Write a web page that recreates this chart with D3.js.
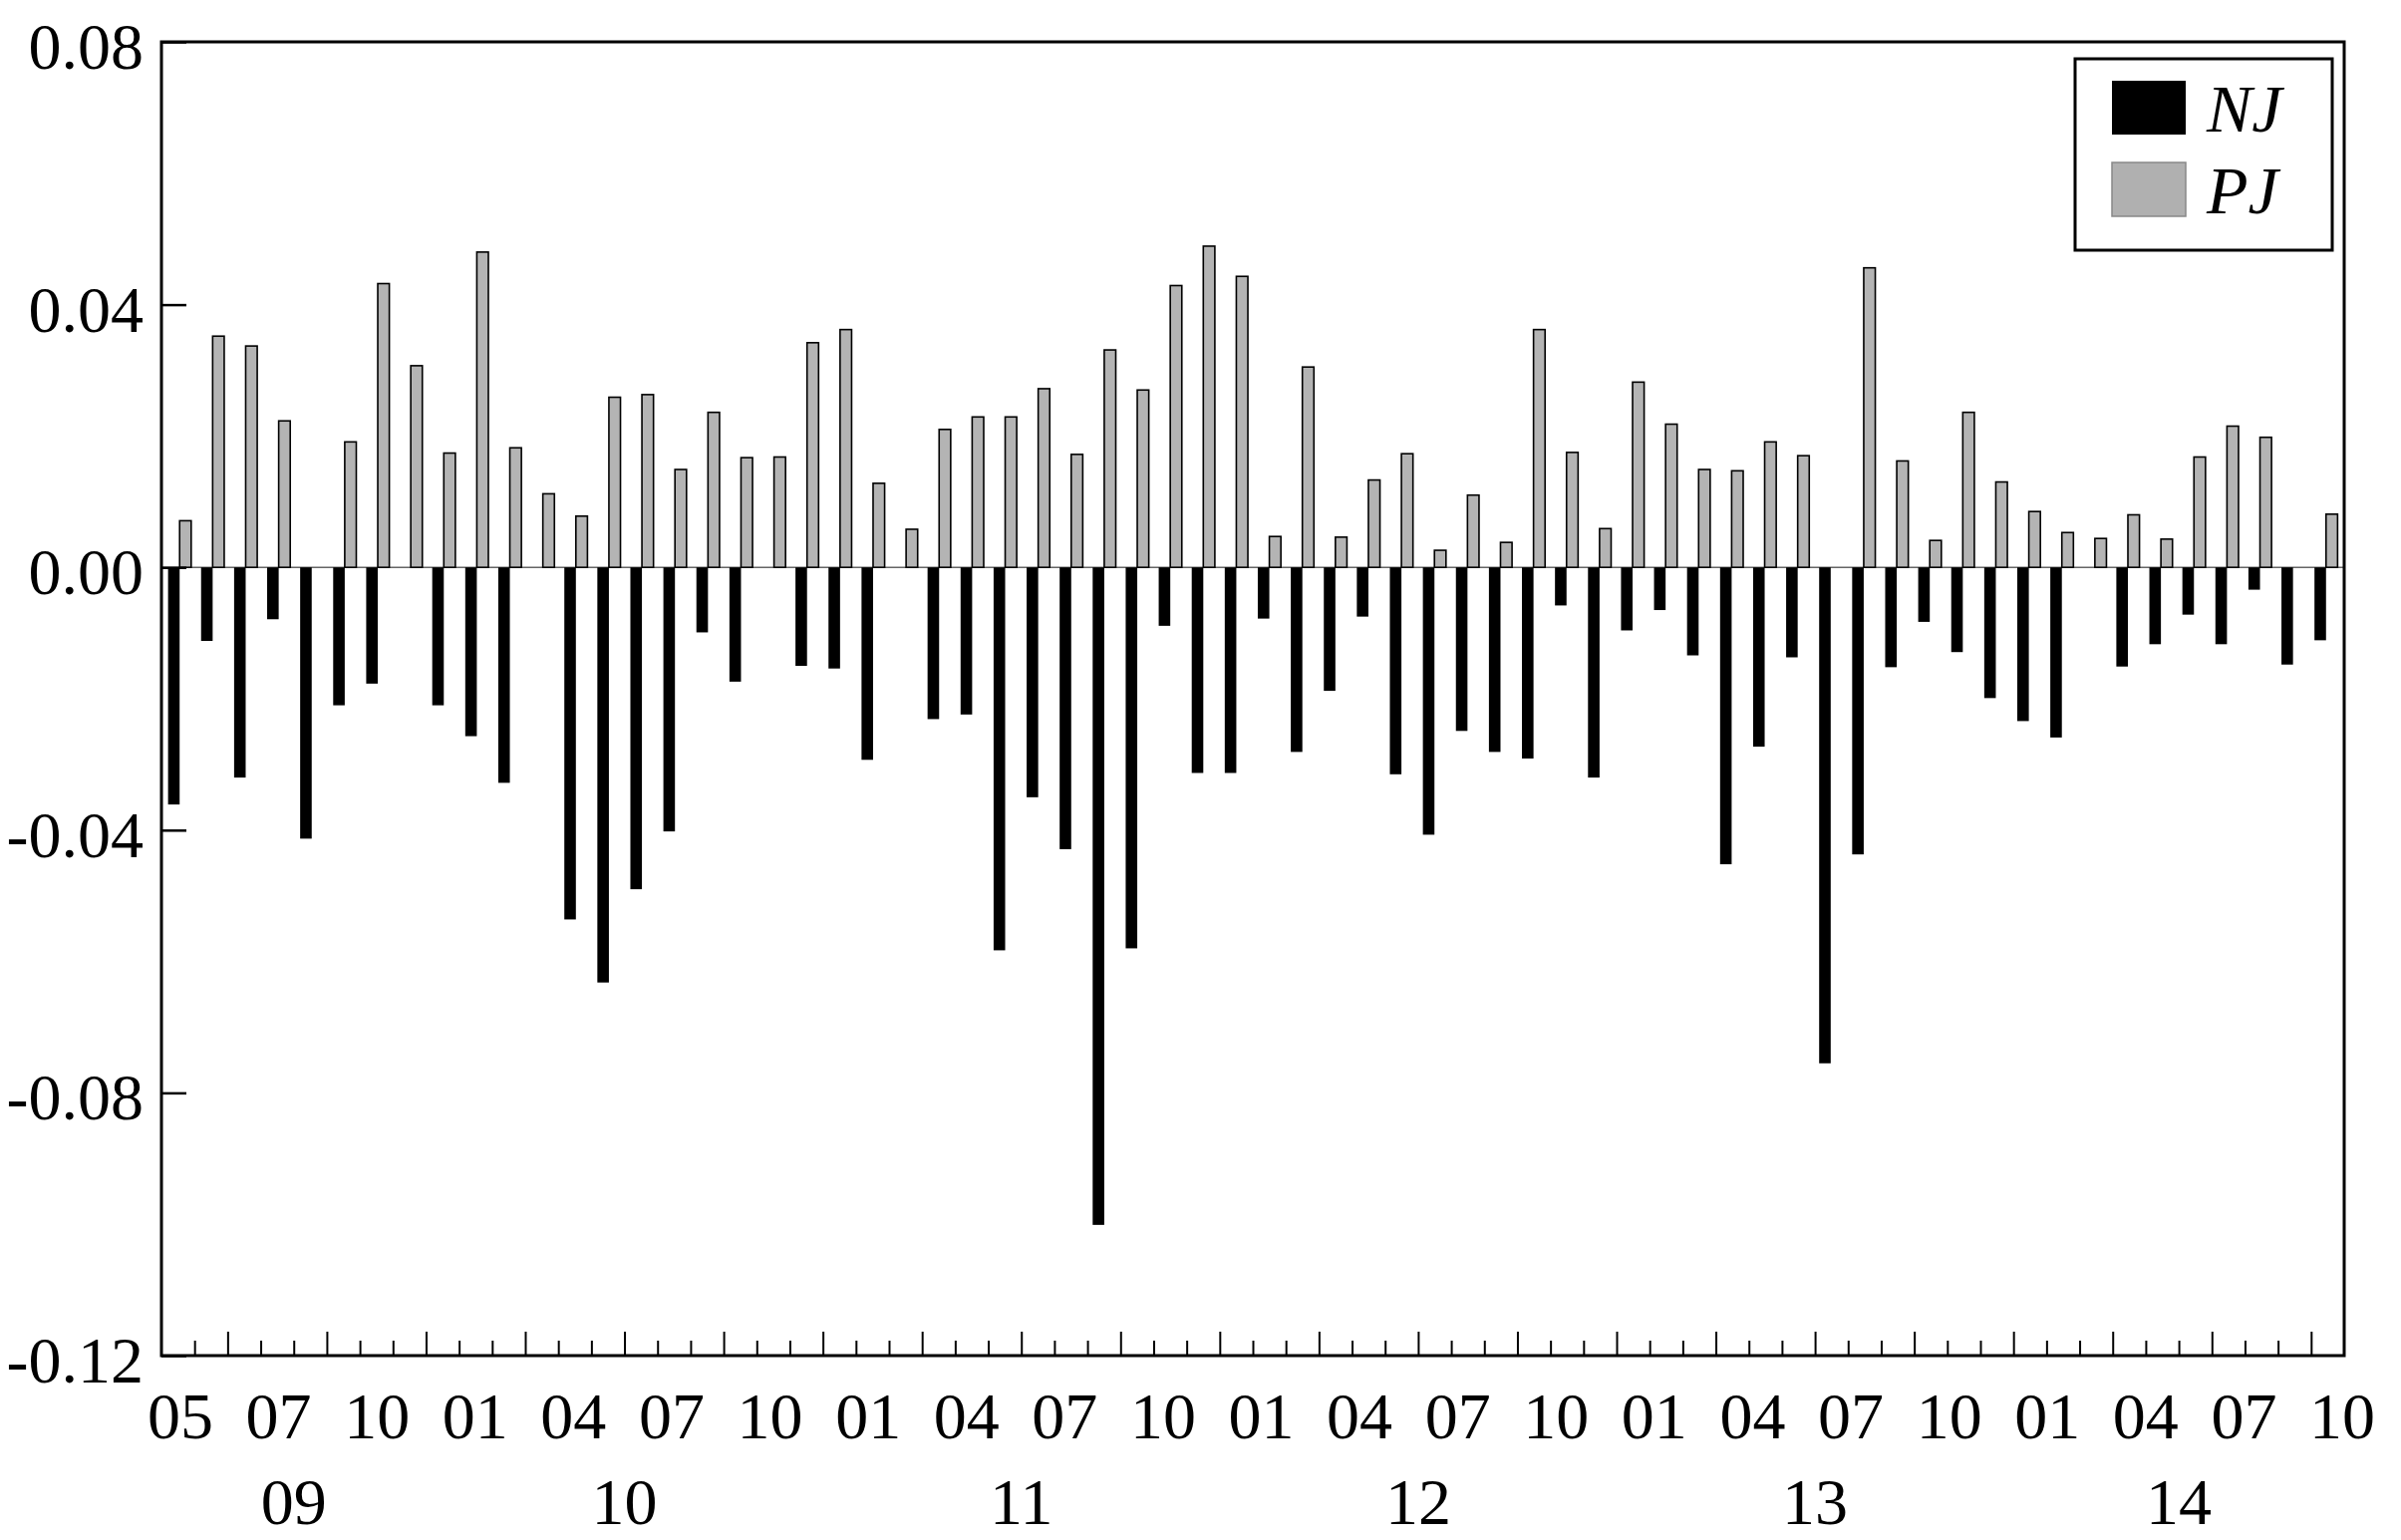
<!DOCTYPE html>
<html>
<head>
<meta charset="utf-8">
<script src="https://cdn.jsdelivr.net/npm/d3@7/dist/d3.min.js"></script>
<style>
  html, body { margin: 0; padding: 0; background: #fff; }
  svg { display: block; }
  text { font-family: "Liberation Serif", "Times New Roman", serif; fill: #000; }
</style>
</head>
<body>
<svg id="chart" width="2409" height="1545"></svg>
<script>
// ---- data ----
const months = [
  "2009-05","2009-06","2009-07","2009-08","2009-09","2009-10","2009-11","2009-12",
  "2010-01","2010-02","2010-03","2010-04","2010-05","2010-06","2010-07","2010-08","2010-09","2010-10","2010-11","2010-12",
  "2011-01","2011-02","2011-03","2011-04","2011-05","2011-06","2011-07","2011-08","2011-09","2011-10","2011-11","2011-12",
  "2012-01","2012-02","2012-03","2012-04","2012-05","2012-06","2012-07","2012-08","2012-09","2012-10","2012-11","2012-12",
  "2013-01","2013-02","2013-03","2013-04","2013-05","2013-06","2013-07","2013-08","2013-09","2013-10","2013-11","2013-12",
  "2014-01","2014-02","2014-03","2014-04","2014-05","2014-06","2014-07","2014-08","2014-09","2014-10"
];
const NJ = [
  -0.0361,-0.0112,-0.0320,-0.0079,-0.0413,-0.0210,-0.0177,0,
  -0.0210,-0.0257,-0.0328,0,-0.0536,-0.0632,-0.0490,-0.0402,-0.0099,-0.0174,0,-0.0150,
  -0.0154,-0.0293,0,-0.0231,-0.0224,-0.0583,-0.0350,-0.0429,-0.1001,-0.0580,-0.0089,-0.0313,
  -0.0313,-0.0078,-0.0281,-0.0188,-0.0075,-0.0315,-0.0407,-0.0249,-0.0281,-0.0291,-0.0058,-0.0320,
  -0.0096,-0.0065,-0.0134,-0.0452,-0.0273,-0.0137,-0.0755,-0.0437,-0.0152,-0.0083,-0.0129,-0.0199,
  -0.0234,-0.0259,0,-0.0151,-0.0117,-0.0072,-0.0117,-0.0034,-0.0148,-0.0111
];
const PJ = [
  0.0071,0.0352,0.0337,0.0223,0,0.0191,0.0432,0.0307,
  0.0174,0.0480,0.0182,0.0112,0.0078,0.0259,0.0263,0.0149,0.0236,0.0167,0.0168,0.0342,
  0.0362,0.0128,0.0058,0.0210,0.0229,0.0229,0.0272,0.0172,0.0331,0.0270,0.0429,0.0489,
  0.0443,0.0047,0.0305,0.0046,0.0133,0.0173,0.0026,0.0110,0.0038,0.0362,0.0175,0.0059,
  0.0282,0.0218,0.0149,0.0147,0.0191,0.0170,0,0.0456,0.0162,0.0041,0.0236,0.0130,
  0.0085,0.0053,0.0044,0.0080,0.0043,0.0168,0.0215,0.0198,0,0.0081
];
const seriesNames = ["NJ", "PJ"];
const yTicks = [0.08, 0.04, 0.00, -0.04, -0.08, -0.12];
const monthLabels = ["05","07","10","01","04","07","10","01","04","07","10","01","04","07","10","01","04","07","10","01","04","07","10"];
const yearLabels = ["09","10","11","12","13","14"];

// ---- layout ----
const svg = d3.select("#chart");
const L = 162, R = 2352, T = 42, B = 1360;
const colors = { NJ: "#000000", PJ: "#b4b4b4" };

const y = d3.scaleLinear().domain([-0.12, 0.08]).range([B, T]);
const x = d3.scaleBand().domain(months).range([L, R]).paddingInner(0.3).paddingOuter(0.2);
const xs = d3.scaleBand().domain(seriesNames).range([0, x.bandwidth()]).padding(0);
const xb = d3.scaleLinear().domain([0, months.length]).range([L, R]); // month boundaries

svg.append("rect").attr("width", 2409).attr("height", 1545).attr("fill", "#fff");

// zero line
svg.append("line")
  .attr("x1", L).attr("x2", R).attr("y1", y(0)).attr("y2", y(0))
  .attr("stroke", "#666").attr("stroke-width", 1.5);

// bars
const rows = months.map((m, i) => ({ m, NJ: NJ[i], PJ: PJ[i] }));
const g = svg.append("g");
g.selectAll("rect.nj").data(rows.filter(d => d.NJ !== 0)).join("rect")
  .attr("class", "nj")
  .attr("x", d => x(d.m) + xs("NJ"))
  .attr("width", xs.bandwidth())
  .attr("y", d => y(0))
  .attr("height", d => y(d.NJ) - y(0))
  .attr("fill", colors.NJ);
g.selectAll("rect.pj").data(rows.filter(d => d.PJ !== 0)).join("rect")
  .attr("class", "pj")
  .attr("x", d => x(d.m) + xs("PJ"))
  .attr("width", xs.bandwidth())
  .attr("y", d => y(d.PJ))
  .attr("height", d => y(0) - y(d.PJ))
  .attr("fill", colors.PJ)
  .attr("stroke", "#000").attr("stroke-width", 1.6);

// y axis
const fmt = v => d3.format(".2f")(v).replace("\u2212", "-");
const yAxis = svg.append("g").attr("transform", `translate(${L},0)`)
  .call(d3.axisLeft(y).tickValues(yTicks).tickSize(-25).tickPadding(18).tickFormat(fmt));
yAxis.select(".domain").remove();
yAxis.selectAll(".tick line").attr("stroke", "#000").attr("stroke-width", 2.5);
yAxis.selectAll(".tick text")
  .style("font-family", '"Liberation Serif", "Times New Roman", serif')
  .style("font-size", "66px").attr("fill", "#000").attr("dy", "0.40em");

// x ticks: minor every month, major at quarter starts
const boundaries = d3.range(1, months.length);
const majorB = boundaries.filter(i => [1, 4, 7, 10].includes(+months[i].slice(5)));
const minorB = boundaries.filter(i => !majorB.includes(i));
const xMinor = svg.append("g").attr("transform", `translate(0,${B})`)
  .call(d3.axisBottom(xb).tickValues(minorB).tickSize(-15).tickFormat(""));
const xMajor = svg.append("g").attr("transform", `translate(0,${B})`)
  .call(d3.axisBottom(xb).tickValues(majorB).tickSize(-24).tickFormat(""));
[xMinor, xMajor].forEach(a => {
  a.select(".domain").remove();
  a.selectAll(".tick line").attr("stroke", "#000").attr("stroke-width", 2);
});

// month labels (evenly spaced)
const xl = d3.scalePoint().domain(d3.range(monthLabels.length)).range([181, 2350]);
svg.append("g").selectAll("text").data(monthLabels).join("text")
  .attr("x", (d, i) => xl(i)).attr("y", 1420)
  .attr("text-anchor", "middle").attr("dy", "0.35em")
  .style("font-size", "66px").text(d => d);

// year labels centred on each year's span of months
const yearPos = yearLabels.map(yl => {
  const idx = months.map((m, i) => m.slice(2, 4) === yl ? i : -1).filter(i => i >= 0);
  return (xb(idx[0]) + xb(idx[idx.length - 1] + 1)) / 2;
});
svg.append("g").selectAll("text").data(yearLabels).join("text")
  .attr("x", (d, i) => yearPos[i]).attr("y", 1506)
  .attr("text-anchor", "middle").attr("dy", "0.35em")
  .style("font-size", "66px").text(d => d);

// frame
svg.append("rect")
  .attr("x", L).attr("y", T).attr("width", R - L).attr("height", B - T)
  .attr("fill", "none").attr("stroke", "#000").attr("stroke-width", 3);

// legend
const lg = svg.append("g");
lg.append("rect").attr("x", 2082).attr("y", 59).attr("width", 258).attr("height", 192)
  .attr("fill", "#fff").attr("stroke", "#000").attr("stroke-width", 3);
seriesNames.forEach((s, i) => {
  lg.append("rect").attr("x", 2119).attr("y", 81 + i * 82).attr("width", 74).attr("height", 54)
    .attr("fill", s === "NJ" ? colors.NJ : "#b0b0b0")
    .attr("stroke", s === "NJ" ? "none" : "#888").attr("stroke-width", 1.5);
  lg.append("text").attr("x", 2214).attr("y", 108 + i * 82).attr("dy", "0.35em")
    .style("font-size", "68px").style("font-style", "italic").text(s);
});
</script>
</body>
</html>
